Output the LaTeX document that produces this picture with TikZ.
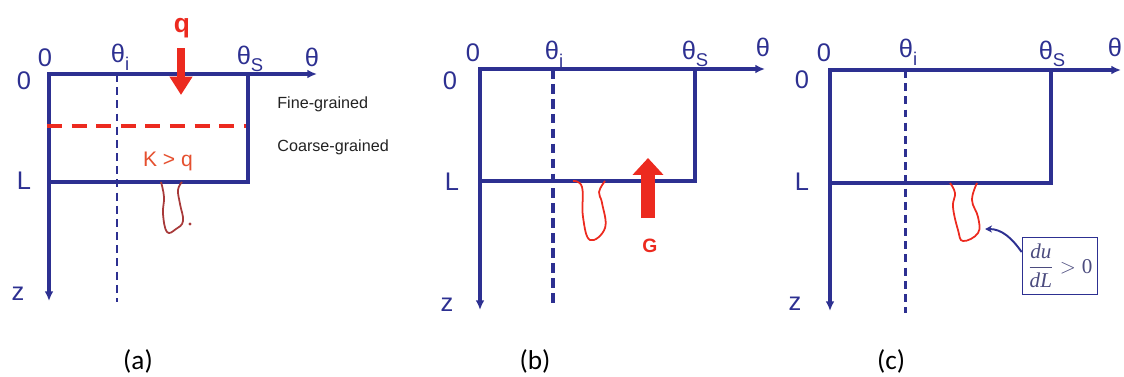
\documentclass[tikz,border=0pt]{standalone}
\usepackage{fontspec}
\setmainfont{Liberation Sans}
\newfontfamily\capfont{Carlito}
\newfontfamily\noteserif{Liberation Serif}
\usepackage{xcolor}
\definecolor{cAxis}{HTML}{2D3091}
\definecolor{cRed}{HTML}{EC2A1F}
\definecolor{cDrip}{HTML}{A83A3A}
\definecolor{cKq}{HTML}{E5502F}
\definecolor{cInk}{HTML}{222222}
\definecolor{cNote}{HTML}{4B4B7E}
\usepackage{tikz}
\usetikzlibrary{positioning,arrows.meta,calc}
\newcommand{\lowsub}[1]{\raisebox{-0.3em}{\fontsize{10.5}{10.5}\selectfont #1}}
\tikzset{
  axis-line/.style={-{Latex[length=5.5pt,width=5pt]},draw=cAxis,line width=1.9pt},
  box-edge/.style={draw=cAxis,line width=1.9pt},
  theta-thin/.style={draw=cAxis,line width=0.9pt,dash pattern=on 4.5pt off 3pt},
  theta-thick/.style={draw=cAxis,line width=2.4pt,dash pattern=on 5.5pt off 3pt},
  theta-mid/.style={draw=cAxis,line width=1.7pt,dash pattern=on 4.5pt off 3pt},
  layer-line/.style={draw=cRed,line width=2.3pt,dash pattern=on 8.5pt off 5.5pt},
  drip/.style={draw=cRed,line width=1pt,line join=round},
  flux-q/.style={-{Triangle[length=10.5pt,width=12.5pt]},draw=cRed,line width=4pt},
  flux-g/.style={-{Triangle[length=9.6pt,width=17pt]},draw=cRed,line width=8.5pt},
  note-arrow/.style={-{Stealth[length=4pt,width=4pt]},draw=cAxis,line width=1.1pt},
  axis-label/.style={text=cAxis,font=\fontsize{14.5}{15}\selectfont,inner sep=0pt},
  soil-label/.style={text=cInk,font=\fontsize{9.2}{10}\selectfont,inner sep=0pt,anchor=west},
  panel-label/.style={text=black,font=\capfont\fontsize{15.5}{16}\selectfont,inner sep=0pt},
  note-box/.style={draw=cAxis,line width=1pt,text=cNote,minimum width=1.5cm,
    minimum height=1.14cm,inner sep=1pt,font=\fontsize{12}{14}\selectfont},
}

\begin{document}
\begin{tikzpicture}[x=0.02cm,y=-0.02cm]
  \useasboundingbox (0,0) rectangle (1124,376);

  % (a) ponded infiltration, fine over coarse
  \coordinate (a-o)  at (49,74);
  \coordinate (a-t)  at (317,74);
  \coordinate (a-z)  at (49,301);
  \coordinate (a-c)  at (248,182);
  \coordinate (a-i1) at (117,74);
  \coordinate (a-i2) at (117,302);
  \coordinate (a-d1) at (47,126);
  \coordinate (a-d2) at (246,126);
  \coordinate (a-q1) at (181,48);
  \coordinate (a-q2) at (181,95);
  \draw[box-edge] (a-o) rectangle (a-c);
  \draw[axis-line] (a-o) -- (a-t);
  \draw[axis-line] (a-o) -- (a-z);
  \draw[theta-thin] (a-i1) -- (a-i2);
  \draw[layer-line] (a-d1) -- (a-d2);
  \draw[flux-q] (a-q1) -- (a-q2);
  \node[axis-label] (a-n0) at (45,58)  {0};
  \node[axis-label] (a-nO) at (24,81)  {0};
  \node[axis-label] (a-nL) at (24,181) {L};
  \node[axis-label] (a-nz) at (18,294) {z};
  \node[axis-label] (a-ni) at (120,57) {θ\lowsub{i}};
  \node[axis-label] (a-ns) at (250,59) {θ\lowsub{S}};
  \node[axis-label] (a-nt) at (312,57) {θ};
  \node[text=cRed,font=\bfseries\fontsize{15}{15}\selectfont,inner sep=0pt] (a-q) at (182,28) {q};
  \node[text=cKq,font=\fontsize{12}{12}\selectfont,inner sep=0pt] (a-k) at (168,161) {K > q};
  \node[soil-label] (a-fine)   at (277,104) {Fine-grained};
  \node[soil-label] (a-coarse) at (277,147) {Coarse-grained};
  \draw[drip,draw=cDrip] plot[smooth,tension=0.7] coordinates
    {(161,182) (164,197) (163,214) (167,232) (176,229) (183,221) (180,204) (178,190) (182,182)};
  \fill[cDrip] (190,224) circle (0.9pt);
  \node[panel-label] (a-cap) at (138,361) {(a)};

  % (b) finger under upward pressure G
  \coordinate (b-o)  at (480,69);
  \coordinate (b-t)  at (765,69);
  \coordinate (b-z)  at (480,310);
  \coordinate (b-c)  at (695,181);
  \coordinate (b-i1) at (553,69);
  \coordinate (b-i2) at (553,306);
  \coordinate (b-g1) at (648,218);
  \coordinate (b-g2) at (648,158);
  \draw[box-edge] (b-o) rectangle (b-c);
  \draw[axis-line] (b-o) -- (b-t);
  \draw[axis-line] (b-o) -- (b-z);
  \draw[theta-thick] (b-i1) -- (b-i2);
  \draw[flux-g] (b-g1) -- (b-g2);
  \node[axis-label] (b-n0) at (473,53)  {0};
  \node[axis-label] (b-nO) at (450,81)  {0};
  \node[axis-label] (b-nL) at (452,182) {L};
  \node[axis-label] (b-nz) at (447,305) {z};
  \node[axis-label] (b-ni) at (554,54)  {θ\lowsub{i}};
  \node[axis-label] (b-ns) at (695,54)  {θ\lowsub{S}};
  \node[axis-label] (b-nt) at (763,47)  {θ};
  \node[text=cRed,font=\bfseries\fontsize{11}{11}\selectfont,inner sep=0pt] (b-g) at (650,246) {G};
  \draw[drip] plot[smooth,tension=0.7] coordinates
    {(573,181) (582,187) (583,217) (590,240) (605,228) (602,203) (599,192) (605,181)};
  \node[panel-label] (b-cap) at (535,361) {(b)};

  % (c) finger grows, du/dL > 0
  \coordinate (c-o)  at (830,70);
  \coordinate (c-t)  at (1121,70);
  \coordinate (c-z)  at (830,311);
  \coordinate (c-c)  at (1051,183);
  \coordinate (c-i1) at (905,70);
  \coordinate (c-i2) at (905,313);
  \coordinate (c-tip) at (985,229);
  \draw[box-edge] (c-o) rectangle (c-c);
  \draw[axis-line] (c-o) -- (c-t);
  \draw[axis-line] (c-o) -- (c-z);
  \draw[theta-mid] (c-i1) -- (c-i2);
  \node[axis-label] (c-n0) at (824,53)  {0};
  \node[axis-label] (c-nO) at (802,80)  {0};
  \node[axis-label] (c-nL) at (802,182) {L};
  \node[axis-label] (c-nz) at (795,304) {z};
  \node[axis-label] (c-ni) at (908,52)  {θ\lowsub{i}};
  \node[axis-label] (c-ns) at (1052,54) {θ\lowsub{S}};
  \node[axis-label] (c-nt) at (1115,47) {θ};
  \draw[drip] plot[smooth,tension=0.7] coordinates
    {(950,183) (955,193) (953,207) (958,230) (963,241) (978,233) (978,217) (972,200) (977,183)};
  \node[note-box] (c-du) at (1060,266)
    {$\displaystyle\frac{\mbox{\noteserif\itshape du}}{\mbox{\noteserif\itshape dL}}>\mbox{\noteserif 0}$};
  \draw[note-arrow] (c-du.160) to[out=125,in=0] (c-tip);
  \node[panel-label] (c-cap) at (891,361) {(c)};
\end{tikzpicture}
\end{document}
